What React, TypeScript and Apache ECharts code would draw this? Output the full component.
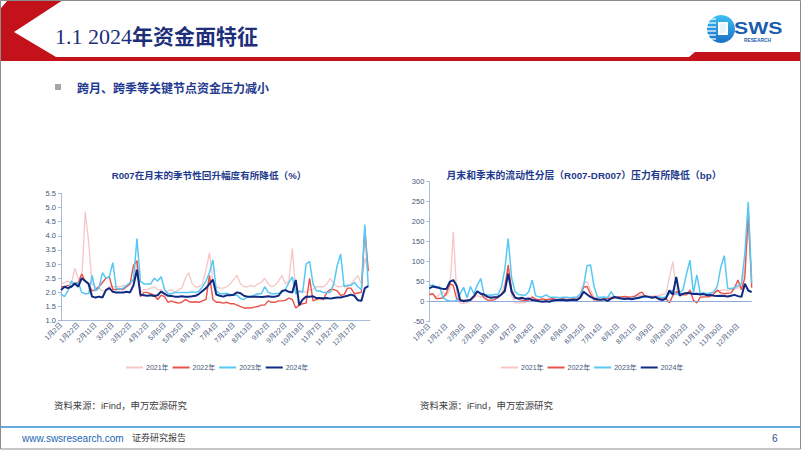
import React, { useEffect, useRef } from 'react';
import * as echarts from 'echarts';

// ---------- data ----------
const YEARS = ['2021年', '2022年', '2023年', '2024年'];
const STEP = 2; // x units between consecutive samples (10 units = one tick label)

const leftTicks = ['1月2日', '1月22日', '2月11日', '3月2日', '3月22日', '4月12日', '5月5日', '5月25日', '6月14日', '7月4日', '7月24日', '8月13日', '9月2日', '9月22日', '10月18日', '11月7日', '11月27日', '12月17日'];
const rightTicks = ['1月2日', '1月21日', '2月9日', '2月28日', '3月18日', '4月7日', '4月26日', '5月18日', '6月6日', '6月25日', '7月14日', '8月2日', '8月21日', '9月9日', '9月28日', '10月23日', '11月11日', '11月30日', '12月19日'];

// R007 (%)
const r007_2021 = [
  2.3, 2.35, 2.4, 2.3, 2.85, 2.5, 2.4, 4.85, 3.8, 2.3,
  2.2, 2.15, 2.05, 2.05, 2.2, 2.2, 2.2, 2.2, 2.25, 2.2,
  2.3, 2.4, 3.05, 2.0, 2.1, 2.1, 2.15, 2.2, 2.1, 2.1,
  1.95, 2.05, 2.1, 2.0, 2.1, 2.15, 2.5, 2.7, 2.3, 2.2,
  2.2, 2.3, 2.8, 3.4, 2.4, 2.2, 2.15, 2.15, 2.2, 2.3,
  2.45, 2.6, 2.3, 2.2, 2.2, 2.25, 2.2, 2.3, 2.35, 2.5,
  2.3, 2.2, 2.25, 2.4, 2.6, 2.3, 2.4, 3.55, 2.0, 2.0,
  2.05, 2.0, 2.1, 2.1, 2.2, 2.2, 2.2, 2.3, 2.5, 2.3,
  2.2, 2.2, 2.25, 2.2, 2.3, 2.45, 2.6, 2.3, 3.2, 2.8,
];
const r007_2022 = [
  2.2, 2.2, 2.25, 2.2, 2.3, 2.35, 2.65, 2.4, 2.3, 2.05,
  2.1, 2.2, 2.35, 2.5, 2.55, 2.1, 2.1, 2.12, 2.1, 2.2,
  2.3, 2.95, 3.12, 1.85, 2.0, 2.0, 1.95, 1.9, 1.75, 1.9,
  1.85, 1.65, 1.7, 1.65, 1.62, 1.65, 1.75, 1.68, 1.65, 1.67,
  1.65, 1.7, 1.75, 2.6, 1.75, 1.65, 1.65, 1.62, 1.65, 1.6,
  1.6, 1.55, 1.5, 1.45, 1.45, 1.45, 1.48, 1.5, 1.55, 1.55,
  1.7, 1.65, 1.65, 1.7, 1.7, 1.72, 1.8, 1.75, 1.45, 1.55,
  1.6, 1.62, 2.5, 1.7, 1.75, 1.78, 1.75, 2.0, 2.1, 2.1,
  2.05, 1.9, 1.92, 2.15, 2.15, 1.95, 1.98, 2.0, 4.25, 2.75,
];
const r007_2023 = [
  1.95, 1.85, 2.05, 2.4, 2.25, 2.35, 2.0, 1.95, 1.95, 2.6,
  2.05, 2.15, 2.7, 2.5, 2.55, 3.05, 2.15, 2.1, 2.15, 2.25,
  2.35, 2.45, 3.9, 2.4, 2.3, 2.3, 2.3, 2.5, 2.4, 2.55,
  2.1, 1.95, 1.95, 2.0, 2.0, 2.0, 2.0, 2.0, 2.02, 2.0,
  2.05, 2.2, 2.4, 2.7, 3.15, 2.05, 1.95, 1.95, 1.97, 1.92,
  1.9, 1.9, 1.78, 1.75, 1.85, 1.85, 1.9, 1.95, 1.95, 2.2,
  2.0, 1.95, 1.95, 1.97, 2.0, 2.1, 2.35, 2.55, 1.95, 2.05,
  2.0, 3.0, 3.1, 2.3, 2.05, 2.05, 2.0, 2.0, 2.0, 2.3,
  2.95, 3.35, 2.2, 2.25, 2.25, 2.35, 2.2, 2.1, 4.4, 2.2,
];
const r007_2024 = [
  2.08, 2.2, 2.15, 2.2, 2.32, 2.2, 2.5, 2.4, 2.3, 1.85,
  1.82, 1.85, 1.82, 2.08, 2.15, 2.02, 2.0, 2.0, 2.0, 2.02,
  2.0, 2.25, 2.8, 1.92, 1.9, 1.88, 1.9, 1.87, 1.9, 2.03,
  1.95, 1.88, 1.87, 1.85, 1.85, 1.86, 1.85, 1.85, 1.86, 1.88,
  1.95, 2.05, 2.15, 2.3, 2.45, 1.92, 1.88, 1.85, 1.9, 1.9,
  1.92, 2.0, 1.97, 1.88, 1.85, 1.85, 1.85, 1.85, 1.84, 1.85,
  1.86, 1.85, 1.85, 1.88, 2.05, 2.08, 2.02, 2.0, 2.44, 1.55,
  1.75, 1.85, 1.85, 1.86, 1.8, 1.8, 1.79, 1.8, 1.78, 1.8,
  1.82, 1.82, 1.85, 1.88, 1.92, 1.88, 1.72, 1.7, 2.15, 2.22,
];

// R007 - DR007 (bp)
const spread_2021 = [
  15, 20, 12, 18, 25, 15, 30, 175, 20, -4,
  -4, -2, 0, 10, 15, 12, 14, 12, 12, 12,
  14, 17, 45, 85, 15, -3, -3, -3, -2, 5,
  8, 6, 5, 6, 5, 6, 5, 6, 5, 6,
  7, 6, 6, 8, 20, 46, 50, 30, 12, 10,
  10, 9, 10, 12, 10, 10, 11, 12, 12, 12,
  14, 15, 16, 15, 14, 14, 15, 16, 18, 20,
  60, 100, 30, 20, 18, 20, 22, 20, 18, 20,
  22, 20, 22, 24, 25, 28, 30, 28, 30, 32,
  35, 40, 80, 190, 60,
];
const spread_2022 = [
  18, 20, 8, 8, 10, 21, 45, 40, 6, 4,
  4, 3, 4, 12, 25, 21, 10, 4, 4, 5,
  10, 18, 30, 92, 30, 12, 6, 4, 3, 4,
  12, 6, 5, 7, 5, 6, 8, 5, 6, 7,
  5, 6, 7, 6, 12, 36, 38, 20, 5, 4,
  5, 6, 8, 8, 9, 12, 12, 13, 11, 12,
  14, 20, 24, 12, 11, 12, 10, 8, 7, 8,
  -3, 15, 25, 20, 17, 17, 29, 4, -3, 11,
  12, 12, 13, 20, 29, 22, 20, 21, 22, 35,
  54, 30, 60, 225, 35,
];
const spread_2023 = [
  40, 42, 37, 38, 10, 4, 2, 1, 3, 20,
  36, 10, 38, 20, 42, 58, 17, 17, 16, 18,
  18, 35, 80, 158, 60, 25, 18, 17, 16, 25,
  54, 15, 12, 12, 17, 12, 11, 11, 10, 11,
  11, 10, 11, 12, 18, 40, 90, 92, 40, 12,
  11, 12, 10, 25, 12, 8, 8, 7, 8, 8,
  9, 8, 11, 12, 11, 10, 11, 12, 10, 12,
  20, 29, 18, 22, 30, 70, 104, 21, 67, 21,
  22, 20, 22, 24, 40, 87, 115, 33, 33, 35,
  40, 45, 120, 250, 46,
];
const spread_2024 = [
  33, 38, 36, 34, 32, 32, 50, 54, 40, 4,
  1, 3, 5, 14, 26, 20, 18, 12, 10, 11,
  12, 18, 26, 70, 25, 10, 8, 10, 7, 8,
  4, 3, 1, 0, 1, 0, 3, 4, 4, 5,
  3, 4, 5, 4, 10, 25, 18, 12, 8, 6,
  5, 6, 2, 8, 12, 10, 8, 7, 8, 6,
  8, 10, 12, 14, 12, 10, 12, 6, 4, 8,
  28, 18, 62, 15, 20, 22, 21, 19, 20, 18,
  19, 16, 17, 15, 14, 15, 14, 13, 15, 17,
  14, 12, 45, 28, 24,
];

// ---------- styles ----------
const COLORS = ['#F6C6C6', '#E8524A', '#57C8F3', '#0F2A80'];
const WIDTHS = [1.3, 1.4, 1.5, 2];
const AXIS_COLOR = '#A9BBDA';
const LABEL_COLOR = '#46577A';
const NAVY = '#1E3A8C';
const SANS = '"Liberation Sans", "Noto Sans CJK SC", sans-serif';
const CJK = '"Noto Sans CJK SC", "Liberation Sans", sans-serif';

const toPairs = (arr: number[]) => arr.map((v, i) => [i * STEP, v]);

const leftData = [r007_2021, r007_2022, r007_2023, r007_2024];
const rightData = [spread_2021, spread_2022, spread_2023, spread_2024];

function buildOption(): any {
  const series: any[] = [];
  [leftData, rightData].forEach((group, axis) => {
    group.forEach((arr, i) => {
      const s: any = {
        name: YEARS[i],
        type: 'line',
        xAxisIndex: axis,
        yAxisIndex: axis,
        data: toPairs(arr),
        showSymbol: false,
        symbol: 'none',
        silent: true,
        z: 2 + i,
        lineStyle: { color: COLORS[i], width: WIDTHS[i] },
        itemStyle: { color: COLORS[i] },
      };
      if (axis === 1 && i === 0) {
        s.markLine = {
          silent: true,
          symbol: 'none',
          label: { show: false },
          lineStyle: { color: '#8FAADC', width: 1, type: 'solid' },
          data: [{ yAxis: 0 }],
        };
      }
      series.push(s);
    });
  });

  const xLabel = (ticks: string[]) => ({
    rotate: 45,
    fontSize: 7,
    fontFamily: SANS,
    color: LABEL_COLOR,
    margin: 3,
    showMaxLabel: false,
    formatter: (v: number) => (v % 10 === 0 && ticks[v / 10] ? ticks[v / 10] : ''),
  });

  const legendBase = {
    data: YEARS,
    icon: 'rect',
    itemWidth: 17,
    itemHeight: 2,
    itemGap: 4,
    selectedMode: false,
    textStyle: { fontSize: 7, color: LABEL_COLOR, fontFamily: SANS, padding: [0, 0, 0, -2] },
  };

  const text = (x: number, y: number, t: string, font: string, fill: string, align = 'left') => ({
    type: 'text',
    x,
    y,
    style: { text: t, font, fill, textAlign: align, textVerticalAlign: 'middle' },
  });

  const logoFill = new echarts.graphic.LinearGradient(0, 0, 0, 1, [
    { offset: 0, color: '#3CC0F2' },
    { offset: 1, color: '#1A6FC6' },
  ]);

  const stripes = [19, 23, 27, 31, 35, 39].map((y) => ({
    type: 'line',
    shape: { x1: 706, y1: y, x2: 716, y2: y },
    style: { stroke: '#FFFFFF', lineWidth: 1.2 },
    z: 11,
  }));

  return {
    animation: false,
    backgroundColor: '#FFFFFF',
    grid: [
      { left: 61, top: 193.3, width: 309, height: 127.4 },
      { left: 429.3, top: 181.7, width: 322.4, height: 140 },
    ],
    xAxis: [
      {
        gridIndex: 0,
        type: 'value',
        min: 0,
        max: 179,
        interval: 10,
        axisLine: { show: true, onZero: false, lineStyle: { color: AXIS_COLOR, width: 1 } },
        axisTick: { show: false },
        splitLine: { show: false },
        axisLabel: xLabel(leftTicks),
      },
      {
        gridIndex: 1,
        type: 'value',
        min: 0,
        max: 188,
        interval: 10,
        axisLine: { show: false, onZero: false },
        axisTick: { show: false },
        splitLine: { show: false },
        axisLabel: xLabel(rightTicks),
      },
    ],
    yAxis: [
      {
        gridIndex: 0,
        type: 'value',
        min: 1,
        max: 5.5,
        interval: 0.5,
        axisLine: { show: true, lineStyle: { color: AXIS_COLOR, width: 1 } },
        axisTick: { show: true, length: 3, lineStyle: { color: AXIS_COLOR } },
        splitLine: { show: false },
        axisLabel: { fontSize: 7.5, color: LABEL_COLOR, fontFamily: SANS, margin: 5, formatter: (v: number) => v.toFixed(1) },
      },
      {
        gridIndex: 1,
        type: 'value',
        min: -50,
        max: 300,
        interval: 50,
        axisLine: { show: true, onZero: false, lineStyle: { color: AXIS_COLOR, width: 1 } },
        axisTick: { show: true, length: 3, lineStyle: { color: AXIS_COLOR } },
        splitLine: { show: false },
        axisLabel: { fontSize: 7.5, color: LABEL_COLOR, fontFamily: SANS, margin: 5 },
      },
    ],
    legend: [
      { ...legendBase, left: 121, top: 359 },
      { ...legendBase, left: 496, top: 359 },
    ],
    series,
    graphic: {
      elements: [
        // slide frame
        { type: 'rect', shape: { x: 0.5, y: 0.5, width: 800, height: 448.5 }, style: { fill: 'none', stroke: '#8C8C8C', lineWidth: 1 }, z: 50 },
        // red header chevron + band
        {
          type: 'polygon',
          shape: { points: [[8, 0], [63, 0], [14, 32], [56, 57], [689, 57], [695, 52], [801, 52], [801, 61], [1, 61], [1, 8]] },
          style: { fill: '#C4121A' },
          z: 5,
        },
        // slide title
        { ...text(55, 36, '1.1 2024', '22px "Liberation Serif", serif', '#1D2E7A'), z: 10 },
        { ...text(132, 35, '年资金面特征', 'bold 21px ' + CJK, '#1D2E7A'), z: 10 },
        // logo
        { type: 'circle', shape: { cx: 721, cy: 29, r: 14 }, style: { fill: logoFill }, z: 10 },
        ...stripes,
        { type: 'rect', shape: { x: 718, y: 22, width: 10, height: 13 }, style: { fill: '#FFFFFF' }, z: 12 },
        { type: 'rect', shape: { x: 720, y: 24, width: 6, height: 9 }, style: { fill: '#E6F4FC' }, z: 12 },
        { ...text(734, 28, 'SWS', 'bold 17px ' + SANS, '#1A5DAD'), scaleX: 1.25, z: 10 },
        { ...text(744, 40.5, 'RESEARCH', 'bold 4.8px ' + SANS, '#1A5DAD'), z: 10 },
        // subtitle
        { type: 'rect', shape: { x: 55, y: 84, width: 6, height: 6 }, style: { fill: '#A6A6A6' }, z: 10 },
        { ...text(77, 87, '跨月、跨季等关键节点资金压力减小', 'bold 12px ' + CJK, '#1F3A8F'), z: 10 },
        // chart titles
        { ...text(209, 175, 'R007在月末的季节性回升幅度有所降低（%）', 'bold 9.6px ' + SANS, NAVY, 'center'), z: 10 },
        { ...text(584, 175, '月末和季末的流动性分层（R007-DR007）压力有所降低（bp）', 'bold 9.8px ' + SANS, NAVY, 'center'), z: 10 },
        // sources
        { ...text(54, 405, '资料来源：iFind，申万宏源研究', '9.4px ' + SANS, '#404040'), z: 10 },
        { ...text(420, 405, '资料来源：iFind，申万宏源研究', '9.4px ' + SANS, '#404040'), z: 10 },
        // footer
        { type: 'line', shape: { x1: 1, y1: 427, x2: 800, y2: 427 }, style: { stroke: '#2D8FD5', lineWidth: 1.5 }, z: 10 },
        { ...text(22, 438, 'www.swsresearch.com', '10px ' + SANS, '#2366B5'), z: 10 },
        { ...text(132, 437, '证券研究报告', '9px ' + CJK, '#404040'), z: 10 },
        { ...text(772, 438, '6', '10px ' + SANS, '#1F4E8C'), z: 10 },
      ],
    },
  };
}

export default function App() {
  const ref = useRef<HTMLDivElement>(null);
  useEffect(() => {
    if (!ref.current) return;
    const chart = echarts.init(ref.current, undefined, { renderer: 'svg' });
    chart.setOption(buildOption());
    return () => chart.dispose();
  }, []);
  return (
    <div
      ref={ref}
      style={{ position: 'absolute', left: 0, top: 0, width: 802, height: 451, background: '#FFFFFF' }}
    />
  );
}
